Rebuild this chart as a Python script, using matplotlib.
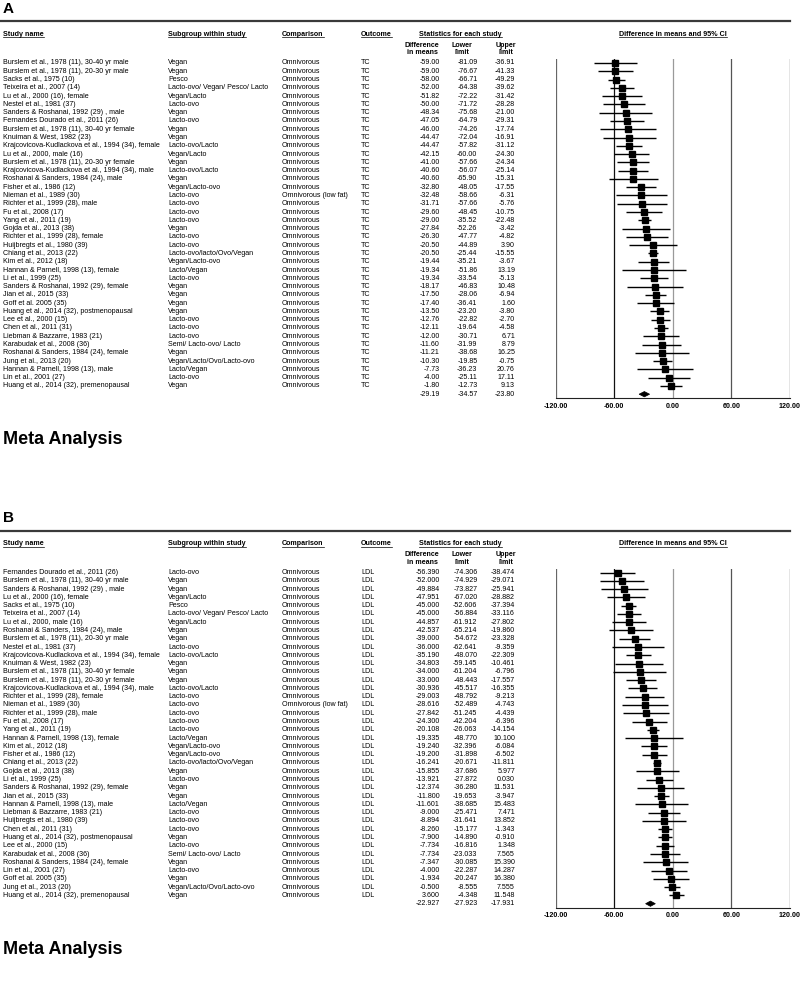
import matplotlib
matplotlib.use("Agg")
import matplotlib.pyplot as plt
from matplotlib.transforms import blended_transform_factory
from matplotlib.patches import Polygon
from matplotlib.lines import Line2D

plt.rcParams['font.family'] = ['Liberation Sans', 'DejaVu Sans']

# ---------------- Panel A data (TC) ----------------
a_names = [
    "Burslem et al., 1978 (11), 30-40 yr male",
    "Burslem et al., 1978 (11), 20-30 yr male",
    "Sacks et al., 1975 (10)",
    "Teixeira et al., 2007 (14)",
    "Lu et al., 2000 (16), female",
    "Nestel et al., 1981 (37)",
    "Sanders & Roshanai, 1992 (29) , male",
    "Fernandes Dourado et al., 2011 (26)",
    "Burslem et al., 1978 (11), 30-40 yr female",
    "Knuiman & West, 1982 (23)",
    "Krajcovicova-Kudlackova et al., 1994 (34), female",
    "Lu et al., 2000, male (16)",
    "Burslem et al., 1978 (11), 20-30 yr female",
    "Krajcovicova-Kudlackova et al., 1994 (34), male",
    "Roshanai & Sanders, 1984 (24), male",
    "Fisher et al., 1986 (12)",
    "Nieman et al., 1989 (30)",
    "Richter et al., 1999 (28), male",
    "Fu et al., 2008 (17)",
    "Yang et al., 2011 (19)",
    "Gojda et al., 2013 (38)",
    "Richter et al., 1999 (28), female",
    "Huijbregts et al., 1980 (39)",
    "Chiang et al., 2013 (22)",
    "Kim et al., 2012 (18)",
    "Hannan & Parnell, 1998 (13), female",
    "Li et al., 1999 (25)",
    "Sanders & Roshanai, 1992 (29), female",
    "Jian et al., 2015 (33)",
    "Goff et al. 2005 (35)",
    "Huang et al., 2014 (32), postmenopausal",
    "Lee et al., 2000 (15)",
    "Chen et al., 2011 (31)",
    "Liebman & Bazzarre, 1983 (21)",
    "Karabudak et al., 2008 (36)",
    "Roshanai & Sanders, 1984 (24), female",
    "Jung et al., 2013 (20)",
    "Hannan & Parnell, 1998 (13), male",
    "Lin et al., 2001 (27)",
    "Huang et al., 2014 (32), premenopausal",
]
a_subgroups = [
    "Vegan", "Vegan", "Pesco", "Lacto-ovo/ Vegan/ Pesco/ Lacto", "Vegan/Lacto",
    "Lacto-ovo", "Vegan", "Lacto-ovo", "Vegan", "Vegan",
    "Lacto-ovo/Lacto", "Vegan/Lacto", "Vegan", "Lacto-ovo/Lacto", "Vegan",
    "Vegan/Lacto-ovo", "Lacto-ovo", "Lacto-ovo", "Lacto-ovo", "Lacto-ovo",
    "Vegan", "Lacto-ovo", "Lacto-ovo", "Lacto-ovo/lacto/Ovo/Vegan", "Vegan/Lacto-ovo",
    "Lacto/Vegan", "Lacto-ovo", "Vegan", "Vegan", "Vegan",
    "Vegan", "Lacto-ovo", "Lacto-ovo", "Lacto-ovo", "Semi/ Lacto-ovo/ Lacto",
    "Vegan", "Vegan/Lacto/Ovo/Lacto-ovo", "Lacto/Vegan", "Lacto-ovo", "Vegan",
]
a_comparisons = ["Omnivorous"] * 16 + ["Omnivorous (low fat)"] + ["Omnivorous"] * 23
a_outcome = "TC"
a_diff = [-59.00, -59.00, -58.00, -52.00, -51.82, -50.00, -48.34, -47.05, -46.00, -44.47,
          -44.47, -42.15, -41.00, -40.60, -40.60, -32.80, -32.48, -31.71, -29.60, -29.00,
          -27.84, -26.30, -20.50, -20.50, -19.44, -19.34, -19.34, -18.17, -17.50, -17.40,
          -13.50, -12.76, -12.11, -12.00, -11.60, -11.21, -10.30, -7.73, -4.00, -1.80]
a_lower = [-81.09, -76.67, -66.71, -64.38, -72.22, -71.72, -75.68, -64.79, -74.26, -72.04,
           -57.82, -60.00, -57.66, -56.07, -65.90, -48.05, -58.66, -57.66, -48.45, -35.52,
           -52.26, -47.77, -44.89, -25.44, -35.21, -51.86, -33.54, -46.83, -28.06, -36.41,
           -23.20, -22.82, -19.64, -30.71, -31.99, -38.68, -19.85, -36.23, -25.11, -12.73]
a_upper = [-36.91, -41.33, -49.29, -39.62, -31.42, -28.28, -21.00, -29.31, -17.74, -16.91,
           -31.12, -24.30, -24.34, -25.14, -15.31, -17.55, -6.31, -5.76, -10.75, -22.48,
           -3.42, -4.82, 3.90, -15.55, -3.67, 13.19, -5.13, 10.48, -6.94, 1.60,
           -3.80, -2.70, -4.58, 6.71, 8.79, 16.25, -0.75, 20.76, 17.11, 9.13]
a_summary = [-29.19, -34.57, -23.80]

# ---------------- Panel B data (LDL) ----------------
b_names = [
    "Fernandes Dourado et al., 2011 (26)",
    "Burslem et al., 1978 (11), 30-40 yr male",
    "Sanders & Roshanai, 1992 (29) , male",
    "Lu et al., 2000 (16), female",
    "Sacks et al., 1975 (10)",
    "Teixeira et al., 2007 (14)",
    "Lu et al., 2000, male (16)",
    "Roshanai & Sanders, 1984 (24), male",
    "Burslem et al., 1978 (11), 20-30 yr male",
    "Nestel et al., 1981 (37)",
    "Krajcovicova-Kudlackova et al., 1994 (34), female",
    "Knuiman & West, 1982 (23)",
    "Burslem et al., 1978 (11), 30-40 yr female",
    "Burslem et al., 1978 (11), 20-30 yr female",
    "Krajcovicova-Kudlackova et al., 1994 (34), male",
    "Richter et al., 1999 (28), female",
    "Nieman et al., 1989 (30)",
    "Richter et al., 1999 (28), male",
    "Fu et al., 2008 (17)",
    "Yang et al., 2011 (19)",
    "Hannan & Parnell, 1998 (13), female",
    "Kim et al., 2012 (18)",
    "Fisher et al., 1986 (12)",
    "Chiang et al., 2013 (22)",
    "Gojda et al., 2013 (38)",
    "Li et al., 1999 (25)",
    "Sanders & Roshanai, 1992 (29), female",
    "Jian et al., 2015 (33)",
    "Hannan & Parnell, 1998 (13), male",
    "Liebman & Bazzarre, 1983 (21)",
    "Huijbregts et al., 1980 (39)",
    "Chen et al., 2011 (31)",
    "Huang et al., 2014 (32), postmenopausal",
    "Lee et al., 2000 (15)",
    "Karabudak et al., 2008 (36)",
    "Roshanai & Sanders, 1984 (24), female",
    "Lin et al., 2001 (27)",
    "Goff et al. 2005 (35)",
    "Jung et al., 2013 (20)",
    "Huang et al., 2014 (32), premenopausal",
]
b_subgroups = [
    "Lacto-ovo", "Vegan", "Vegan", "Vegan/Lacto", "Pesco",
    "Lacto-ovo/ Vegan/ Pesco/ Lacto", "Vegan/Lacto", "Vegan", "Vegan", "Lacto-ovo",
    "Lacto-ovo/Lacto", "Vegan", "Vegan", "Vegan", "Lacto-ovo/Lacto",
    "Lacto-ovo", "Lacto-ovo", "Lacto-ovo", "Lacto-ovo", "Lacto-ovo",
    "Lacto/Vegan", "Vegan/Lacto-ovo", "Vegan/Lacto-ovo", "Lacto-ovo/lacto/Ovo/Vegan", "Vegan",
    "Lacto-ovo", "Vegan", "Vegan", "Lacto/Vegan", "Lacto-ovo",
    "Lacto-ovo", "Lacto-ovo", "Vegan", "Lacto-ovo", "Semi/ Lacto-ovo/ Lacto",
    "Vegan", "Lacto-ovo", "Vegan", "Vegan/Lacto/Ovo/Lacto-ovo", "Vegan",
]
b_comparisons = ["Omnivorous"] * 16 + ["Omnivorous (low fat)"] + ["Omnivorous"] * 23
b_outcome = "LDL"
b_diff = [-56.390, -52.000, -49.884, -47.951, -45.000, -45.000, -44.857, -42.537, -39.000, -36.000,
          -35.190, -34.803, -34.000, -33.000, -30.936, -29.003, -28.616, -27.842, -24.300, -20.108,
          -19.335, -19.240, -19.200, -16.241, -15.855, -13.921, -12.374, -11.800, -11.601, -9.000,
          -8.894, -8.260, -7.900, -7.734, -7.734, -7.347, -4.000, -1.934, -0.500, 3.600]
b_lower = [-74.306, -74.929, -73.827, -67.020, -52.606, -56.884, -61.912, -65.214, -54.672, -62.641,
           -48.070, -59.145, -61.204, -48.443, -45.517, -48.792, -52.489, -51.245, -42.204, -26.063,
           -48.770, -32.396, -31.898, -20.671, -37.686, -27.872, -36.280, -19.653, -38.685, -25.471,
           -31.641, -15.177, -14.890, -16.816, -23.033, -30.085, -22.287, -20.247, -8.555, -4.348]
b_upper = [-38.474, -29.071, -25.941, -28.882, -37.394, -33.116, -27.802, -19.860, -23.328, -9.359,
           -22.309, -10.461, -6.796, -17.557, -16.355, -9.213, -4.743, -4.439, -6.396, -14.154,
           10.100, -6.084, -6.502, -11.811, 5.977, 0.030, 11.531, -3.947, 15.483, 7.471,
           13.852, -1.343, -0.910, 1.348, 7.565, 15.390, 14.287, 16.380, 7.555, 11.548]
b_summary = [-22.927, -27.923, -17.931]

x_ticks = [-120, -60, 0, 60, 120]

W, H = 800, 986
fig = plt.figure(figsize=(W / 100, H / 100), dpi=100)
fig.patch.set_facecolor("white")

FS = 5.1
ROW = 8.28
underline_texts = []


def fx(px):
    return px / W


def fy(py):
    return 1 - py / H


def panel(off, letter, names, subs, comps, outcome, diff, lo, hi, summ, fmt):
    # letter and top rule
    fig.text(fx(3), fy(9 + off), letter, fontsize=11, fontweight="bold", va="center", ha="left")
    fig.add_artist(Line2D([0, fx(790)], [fy(21 + off)] * 2, lw=1.6, color="#3a3a3a",
                          transform=fig.transFigure))
    # headers
    hy = fy(34 + off)
    for x, t, ha in [(3, "Study name", "left"), (168, "Subgroup within study", "left"),
                     (282, "Comparison", "left"), (361, "Outcome", "left"),
                     (460.5, "Statistics for each study", "center"),
                     (673, "Difference in means and 95% CI", "center")]:
        tt = fig.text(fx(x), hy, t, fontsize=FS, fontweight="bold", ha=ha, va="center")
        underline_texts.append(tt)
    for x, t1, t2 in [(422, "Difference", "in means"), (462, "Lower", "limit"), (506, "Upper", "limit")]:
        fig.text(fx(x), fy(45.5 + off), t1, fontsize=FS, fontweight="bold", ha="center", va="center")
        fig.text(fx(x), fy(52.5 + off), t2, fontsize=FS, fontweight="bold", ha="center", va="center")

    # forest axes
    top, bot = 59 + off, 398 + off
    first = 63 + off
    ax = fig.add_axes([fx(555.7), fy(bot), (790 - 555.7) / W, (bot - top) / H])
    ax.set_facecolor("none")
    ax.set_xlim(-120, 120)
    ax.set_ylim((bot - first) / ROW, (top - first) / ROW)
    for s in ["top", "left", "right"]:
        ax.spines[s].set_visible(False)
    ax.spines["bottom"].set_linewidth(0.8)
    ax.spines["bottom"].set_color("#222222")
    ax.set_yticks([])
    ax.set_xticks(x_ticks)
    ax.set_xticklabels([f"{v:.2f}" for v in x_ticks], fontsize=FS, fontweight="bold")
    ax.tick_params(axis="x", length=0, pad=3.5)
    vcol = {-120: "#666666", -60: "#111111", 0: "#9a9a9a", 60: "#555555", 120: "#333333"}
    for v in x_ticks:
        ax.axvline(v, color=vcol[v], lw=0.9, zorder=1)

    n = len(names)
    rows = list(range(n))
    ax.hlines(rows, lo, hi, color="black", lw=1.0, zorder=3)
    ax.plot(diff, rows, "s", color="black", ms=4.5, zorder=4)
    d, l, u = summ
    ax.add_patch(Polygon([(l, n), (d, n - 0.32), (u, n), (d, n + 0.32)], closed=True,
                         facecolor="black", edgecolor="black", lw=0.5, zorder=4))

    tr = blended_transform_factory(fig.transFigure, ax.transData)
    for i in range(n):
        fig.text(fx(3), i, names[i], transform=tr, fontsize=FS, va="center", ha="left")
        fig.text(fx(168), i, subs[i], transform=tr, fontsize=FS, va="center", ha="left")
        fig.text(fx(282), i, comps[i], transform=tr, fontsize=FS, va="center", ha="left")
        fig.text(fx(361), i, outcome, transform=tr, fontsize=FS, va="center", ha="left")
        fig.text(fx(440), i, fmt.format(diff[i]), transform=tr, fontsize=FS, va="center", ha="right")
        fig.text(fx(477.5), i, fmt.format(lo[i]), transform=tr, fontsize=FS, va="center", ha="right")
        fig.text(fx(515), i, fmt.format(hi[i]), transform=tr, fontsize=FS, va="center", ha="right")
    for x, v in [(440, d), (477.5, l), (515, u)]:
        fig.text(fx(x), n, fmt.format(v), transform=tr, fontsize=FS, va="center", ha="right")

    fig.text(fx(3), fy(440 + off), "Meta Analysis", fontsize=13, fontweight="bold",
             va="center", ha="left")


panel(0, "A", a_names, a_subgroups, a_comparisons, a_outcome, a_diff, a_lower, a_upper,
      a_summary, "{:.2f}")
panel(509.5, "B", b_names, b_subgroups, b_comparisons, b_outcome, b_diff, b_lower, b_upper,
      b_summary, "{:.3f}")

# underline headers
fig.canvas.draw()
r = fig.canvas.get_renderer()
for t in underline_texts:
    bb = t.get_window_extent(renderer=r)
    y = (bb.y0 + 0.3) / H
    fig.add_artist(Line2D([bb.x0 / W, bb.x1 / W], [y, y], lw=0.5, color="black",
                          transform=fig.transFigure))

fig.savefig("out.png", dpi=100, facecolor="white")
